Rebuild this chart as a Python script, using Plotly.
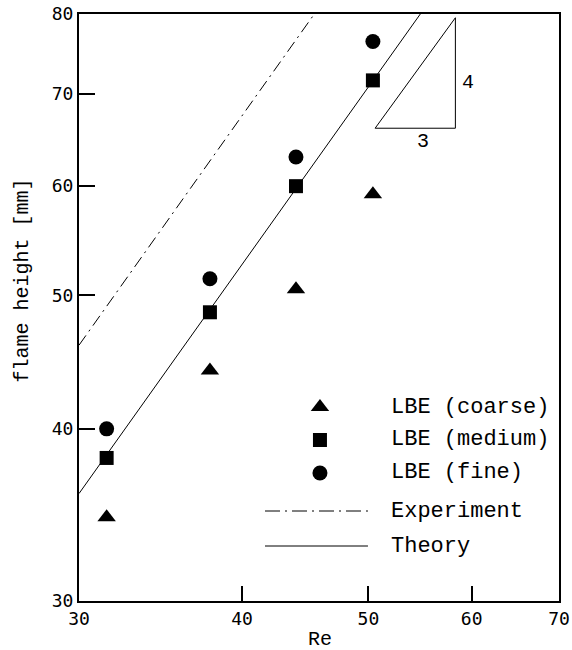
import numpy as np
import plotly.graph_objects as go

# ---- data ----
re_vals = [31.5, 37.8, 44.0, 50.4]
coarse = [34.5, 44.1, 50.5, 59.2]
medium = [38.1, 48.6, 60.0, 71.6]
fine = [40.0, 51.4, 63.0, 76.4]

theory_re = [30.0, 54.8]
theory_h = [35.9, 80.0]
exp_re = [30.0, 45.45]
exp_h = [46.0, 80.0]

# slope guide triangle (4:3)
slope_re = [50.6, 58.3, 58.3, 50.6]
slope_h = [66.1, 66.1, 79.5, 66.1]

x_ticks = [30, 40, 50, 60, 70]
y_ticks = [30, 40, 50, 60, 70, 80]

legend_names = ["LBE (coarse)", "LBE (medium)", "LBE (fine)", "Experiment", "Theory"]
legend_rows = [0.3305, 0.2743, 0.2181, 0.1533, 0.0937]

MONO = "Courier New, Liberation Mono, monospace"
TICKF = "DejaVu Sans Mono"
fig = go.Figure()

# theory and experiment lines
fig.add_trace(go.Scatter(x=exp_re, y=exp_h, mode="lines",
                         line=dict(color="black", width=1, dash="12px,5px,2px,5px")))
fig.add_trace(go.Scatter(x=theory_re, y=theory_h, mode="lines",
                         line=dict(color="black", width=1)))
# slope triangle
fig.add_trace(go.Scatter(x=slope_re, y=slope_h, mode="lines",
                         line=dict(color="black", width=1)))

# data points
fig.add_trace(go.Scatter(x=re_vals, y=coarse, mode="markers",
                         marker=dict(symbol="triangle-up", size=16, color="black")))
fig.add_trace(go.Scatter(x=re_vals, y=medium, mode="markers",
                         marker=dict(symbol="square", size=14, color="black")))
fig.add_trace(go.Scatter(x=re_vals, y=fine, mode="markers",
                         marker=dict(symbol="circle", size=15, color="black")))

# custom legend on an overlay [0,1] axis pair
sym_x = 0.502
line_x = [0.3875, 0.602]
text_x = 0.646
symbols = ["triangle-up", "square", "circle"]
sizes = [16, 14, 15]
for i in range(3):
    fig.add_trace(go.Scatter(x=[sym_x], y=[legend_rows[i]], mode="markers",
                             xaxis="x2", yaxis="y2",
                             marker=dict(symbol=symbols[i], size=sizes[i], color="black")))
fig.add_trace(go.Scatter(x=line_x, y=[legend_rows[3]] * 2, mode="lines", xaxis="x2", yaxis="y2",
                         line=dict(color="black", width=1, dash="15px,5px,2px,5px")))
fig.add_trace(go.Scatter(x=line_x, y=[legend_rows[4]] * 2, mode="lines", xaxis="x2", yaxis="y2",
                         line=dict(color="black", width=1)))

annotations = []
for name, row in zip(legend_names, legend_rows):
    annotations.append(dict(x=text_x, y=row, xref="x2", yref="y2", text=name,
                            showarrow=False, xanchor="left", yanchor="middle",
                            font=dict(family=MONO, size=22, color="black")))
annotations.append(dict(x=np.log10(59.6), y=np.log10(71.3), xref="x", yref="y", text="4",
                        showarrow=False, font=dict(family=MONO, size=20, color="black")))
annotations.append(dict(x=np.log10(55.1), y=np.log10(64.6), xref="x", yref="y", text="3",
                        showarrow=False, font=dict(family=MONO, size=20, color="black")))
# axis titles placed like the reference
annotations.append(dict(x=-57 / 480, y=0.546, xref="paper", yref="paper", text="flame height [mm]",
                        showarrow=False, textangle=-90, xanchor="center", yanchor="middle",
                        font=dict(family=MONO, size=20, color="black")))
annotations.append(dict(x=0.502, y=-0.0664, xref="paper", yref="paper", text="Re",
                        showarrow=False, xanchor="center", yanchor="middle",
                        font=dict(family=MONO, size=20, color="black")))

fig.update_layout(
    width=572, height=650,
    margin=dict(l=79, r=13, t=14, b=49, autoexpand=False),
    paper_bgcolor="white", plot_bgcolor="white",
    showlegend=False,
    annotations=annotations,
    xaxis=dict(type="log", range=[np.log10(30), np.log10(70)],
               tickvals=x_ticks, ticktext=[str(v) for v in x_ticks],
               ticks="inside", ticklen=15, tickwidth=1.5, tickcolor="black",
               showline=True, linecolor="black", linewidth=2, mirror=True,
               showgrid=False, zeroline=False, automargin=False,
               tickfont=dict(family=TICKF, size=18, color="black")),
    yaxis=dict(type="log", range=[np.log10(30), np.log10(80)],
               tickvals=y_ticks, ticktext=[str(v) for v in y_ticks],
               ticks="inside", ticklen=16, tickwidth=1.5, tickcolor="black",
               showline=True, linecolor="black", linewidth=2, mirror=True,
               showgrid=False, zeroline=False, automargin=False,
               tickfont=dict(family=TICKF, size=18, color="black")),
    xaxis2=dict(overlaying="x", anchor="y2", range=[0, 1], visible=False),
    yaxis2=dict(overlaying="y", anchor="x2", range=[0, 1], visible=False),
)

fig.write_html("out.html", config={"displayModeBar": False},
               post_script="document.body.style.margin='0px';document.body.style.overflow='hidden';")
